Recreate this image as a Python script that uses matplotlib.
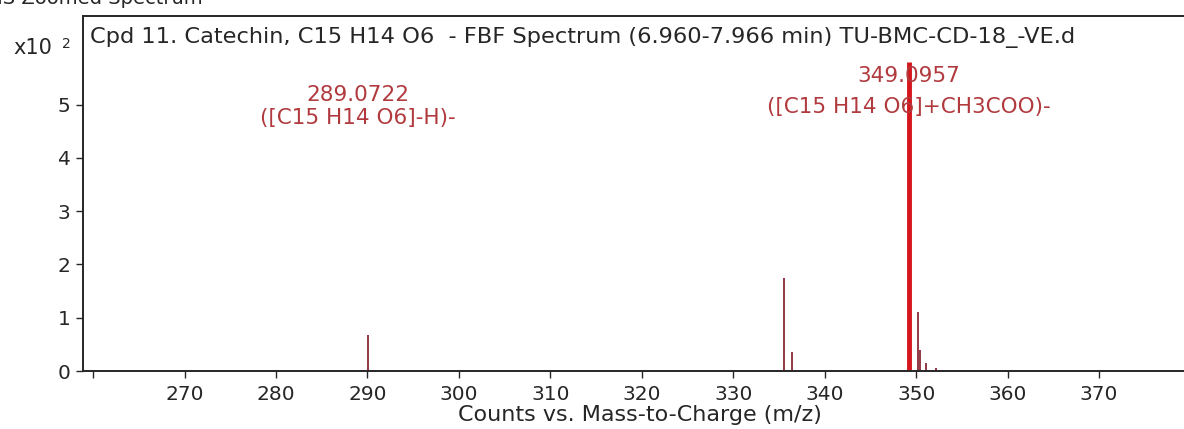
import matplotlib.pyplot as plt

plt.rcParams["font.family"] = ["DejaVu Sans"]

# peaks (m/z, counts x10^2)
minor_mz = [290.1, 335.5, 336.4, 350.2, 350.4, 351.1, 352.2]
minor_counts = [0.68, 1.75, 0.36, 1.11, 0.40, 0.15, 0.05]
main_mz = [349.25]
main_counts = [5.79]

x_ticks = [260, 270, 280, 290, 300, 310, 320, 330, 340, 350, 360, 370]
x_tick_labels = [""] + [str(t) for t in x_ticks[1:]]
y_ticks = [0, 1, 2, 3, 4, 5]

# (centre m/z, mass line, formula line)
peak_labels = [
    (289.0, "289.0722", "([C15 H14 O6]-H)-"),
    (349.2, "349.0957", "([C15 H14 O6]+CH3COO)-"),
]
label_rows = [(5.17, 4.75), (5.53, 4.96)]

title = "Cpd 11. Catechin, C15 H14 O6  - FBF Spectrum (6.960-7.966 min) TU-BMC-CD-18_-VE.d"
ink = "#262626"
label_color = "#b03a3e"

fig = plt.figure(figsize=(11.84, 4.29), dpi=100)
ax = fig.add_axes([0.0701, 0.135, 0.93, 0.8277])

ax.vlines(minor_mz, 0, minor_counts, color="#8b2a35", linewidth=1.3)
ax.vlines(main_mz, 0, main_counts, color="#d5141c", linewidth=3.5)

for (mz, mass, formula), (y1, y2) in zip(peak_labels, label_rows):
    ax.text(mz, y1, mass, color=label_color, fontsize=15.5, ha="center", va="center")
    ax.text(mz, y2, formula, color=label_color, fontsize=15.5, ha="center", va="center")

ax.text(0.006, 0.94, title, transform=ax.transAxes, fontsize=16.2, color=ink, va="center")

ax.set_xlim(258.9, 379.3)
ax.set_ylim(0, 6.66)
ax.set_xticks(x_ticks)
ax.set_xticklabels(x_tick_labels, fontsize=14.5)
ax.set_yticks(y_ticks)
ax.set_yticklabels([str(t) for t in y_ticks], fontsize=14.5)
ax.tick_params(direction="out", length=5, width=1, colors=ink)
ax.tick_params(axis="x", pad=5)
ax.tick_params(axis="y", pad=4)
for side in ["left", "bottom", "top"]:
    ax.spines[side].set_linewidth(1.4)
    ax.spines[side].set_color(ink)
ax.spines["right"].set_visible(False)

ax.set_xlabel("Counts vs. Mass-to-Charge (m/z)", fontsize=16, color=ink)
ax.xaxis.set_label_coords(0.506, -0.095)

fig.text(0.011, 1 - 48 / 429, "x10", fontsize=15, va="center", color=ink)
fig.text(0.052, 1 - 44 / 429, "2", fontsize=10, va="center", color=ink)
fig.text(-0.012, 1 - 3.5 / 429, "MS Zoomed Spectrum", fontsize=14, va="baseline", color=ink)

fig.savefig("out.png", dpi=100)
